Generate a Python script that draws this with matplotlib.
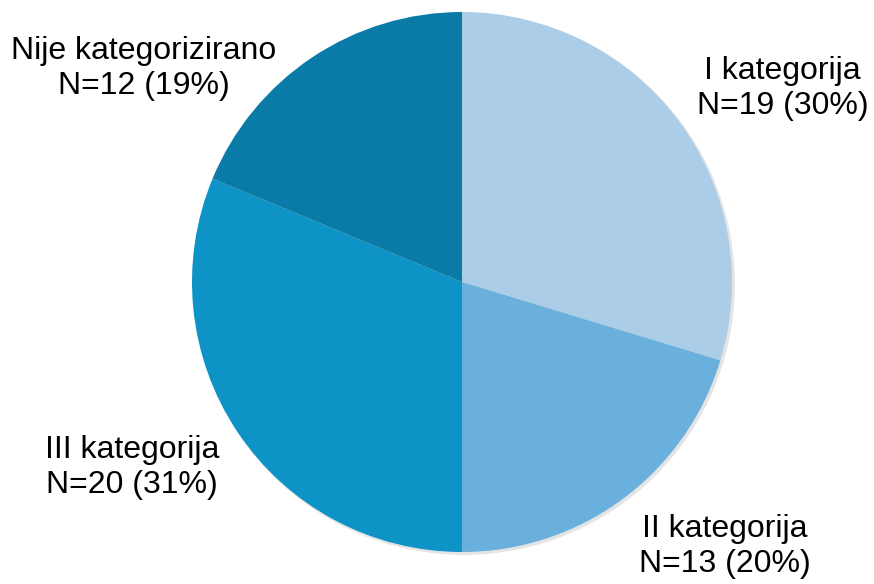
import matplotlib.pyplot as plt
from matplotlib.patches import Circle

labels = ['I kategorija', 'II kategorija', 'III kategorija', 'Nije kategorizirano']
counts = [19, 13, 20, 12]
colors = ['#abcde8', '#69b0dc', '#0e93c7', '#0a7aa6']

# label block centres in axes fraction (layout only)
label_pos = [(1.094, 0.859), (0.987, 0.011), (-0.111, 0.157), (-0.09, 0.896)]

plt.rcParams['font.family'] = ['Liberation Sans', 'DejaVu Sans']

fig = plt.figure(figsize=(8.74, 5.84), dpi=100)
ax = fig.add_axes([192 / 874, 32 / 584, 540 / 874, 540 / 584])

total = sum(counts)
# soft shadow
ax.add_patch(Circle((0.008, -0.008), 1.0, color='#e4e4e4', zorder=0, clip_on=False))
ax.pie(counts, colors=colors, startangle=90, counterclock=False, radius=1.0,
       wedgeprops=dict(linewidth=0))
ax.set_xlim(-1, 1)
ax.set_ylim(-1, 1)
ax.set_aspect('equal')
ax.axis('off')

for lab, n, (x, y) in zip(labels, counts, label_pos):
    pct = round(n / total * 100)
    ax.text(x, y, f'{lab}\nN={n} ({pct}%)', transform=ax.transAxes,
            ha='center', va='center', fontsize=23, linespacing=1.22, clip_on=False)

fig.savefig('out.png', dpi=100)
